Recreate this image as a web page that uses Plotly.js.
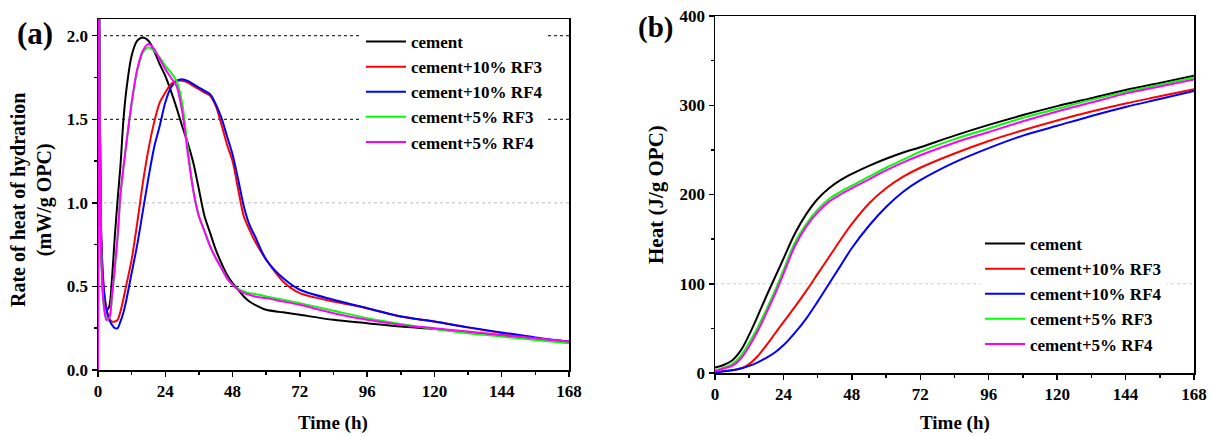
<!DOCTYPE html>
<html>
<head>
<meta charset="utf-8">
<script src="https://cdn.plot.ly/plotly-3.0.1.min.js"></script>
<style>html,body{margin:0;padding:0;background:#fff;}#chart{width:1214px;height:436px;}</style>
</head>
<body>
<div id="chart"></div>
<script>
// ---------- Data ----------
const seriesNames = ["cement", "cement+10% RF3", "cement+10% RF4", "cement+5% RF3", "cement+5% RF4"];
const seriesColors = ["#000000", "#ff0000", "#0000ff", "#00ff00", "#ff00ff"];

// (a) rate of heat of hydration (mW/g OPC) vs time (h)
const timeA = [0, 0.3, 1, 2, 3, 4, 5, 6, 7, 8, 9, 10, 12, 14, 16, 18, 20, 22, 24, 26, 28, 30, 32, 34, 36, 38, 40, 42, 44, 46, 48, 50, 52, 54, 56, 60, 66, 72, 84, 96, 108, 120, 132, 144, 156, 168];
const rateCement = [0, 2.5, 0.85, 0.42, 0.36, 0.38, 0.55, 0.80, 1.02, 1.22, 1.48, 1.66, 1.88, 1.97, 1.99, 1.97, 1.91, 1.83, 1.76, 1.67, 1.57, 1.46, 1.36, 1.24, 1.08, 0.92, 0.82, 0.72, 0.64, 0.57, 0.52, 0.48, 0.44, 0.41, 0.39, 0.36, 0.345, 0.33, 0.30, 0.28, 0.26, 0.245, 0.225, 0.205, 0.185, 0.17];
const rate10RF3 = [0, 2.5, 0.9, 0.5, 0.37, 0.31, 0.29, 0.29, 0.30, 0.35, 0.42, 0.50, 0.66, 0.88, 1.12, 1.32, 1.48, 1.60, 1.66, 1.71, 1.73, 1.73, 1.72, 1.70, 1.68, 1.66, 1.64, 1.58, 1.47, 1.35, 1.25, 1.08, 0.92, 0.84, 0.77, 0.66, 0.53, 0.46, 0.41, 0.37, 0.32, 0.29, 0.255, 0.22, 0.19, 0.165];
const rate10RF4 = [0, 2.5, 0.9, 0.5, 0.36, 0.30, 0.27, 0.25, 0.25, 0.29, 0.34, 0.41, 0.58, 0.75, 0.95, 1.15, 1.33, 1.46, 1.60, 1.69, 1.73, 1.74, 1.73, 1.71, 1.69, 1.67, 1.65, 1.59, 1.51, 1.40, 1.29, 1.14, 0.98, 0.87, 0.80, 0.66, 0.55, 0.48, 0.42, 0.37, 0.32, 0.29, 0.255, 0.225, 0.195, 0.17];
const rate5RF3 = [0, 2.5, 0.8, 0.40, 0.31, 0.31, 0.44, 0.60, 0.80, 1.04, 1.20, 1.34, 1.59, 1.79, 1.90, 1.93, 1.91, 1.87, 1.82, 1.78, 1.73, 1.60, 1.33, 1.08, 0.92, 0.83, 0.74, 0.67, 0.61, 0.55, 0.51, 0.485, 0.47, 0.46, 0.455, 0.44, 0.42, 0.40, 0.355, 0.31, 0.275, 0.245, 0.22, 0.20, 0.18, 0.16];
const rate5RF4 = [0, 2.5, 0.8, 0.40, 0.30, 0.31, 0.45, 0.62, 0.80, 1.05, 1.20, 1.34, 1.60, 1.80, 1.91, 1.95, 1.92, 1.86, 1.80, 1.75, 1.70, 1.55, 1.30, 1.07, 0.92, 0.83, 0.74, 0.67, 0.61, 0.55, 0.51, 0.48, 0.46, 0.45, 0.44, 0.43, 0.41, 0.39, 0.34, 0.30, 0.27, 0.25, 0.23, 0.21, 0.19, 0.17];

// (b) cumulative heat (J/g OPC) vs time (h)
const timeB = [0, 3, 6, 9, 12, 15, 18, 21, 24, 28, 32, 36, 40, 44, 48, 54, 60, 66, 72, 84, 96, 108, 120, 132, 144, 156, 168];
const heatCement = [6, 9, 14, 25, 43, 64, 86, 107, 128, 156, 178, 195, 207, 216, 223, 232, 240, 247, 253, 266, 278, 289, 299, 308, 317, 325, 333];
const heat10RF3 = [1, 2, 3, 5, 10, 19, 31, 44, 57, 74, 92, 111, 130, 149, 167, 190, 207, 220, 230, 246, 260, 272, 283, 293, 302, 310, 318];
const heat10RF4 = [0, 2, 3, 5, 8, 12, 17, 23, 31, 45, 61, 80, 100, 120, 140, 165, 186, 203, 216, 236, 252, 266, 277, 288, 298, 307, 316];
const heat5RF3 = [3, 6, 10, 19, 34, 51, 71, 92, 115, 146, 167, 183, 195, 203, 210, 220, 230, 239, 248, 262, 274, 286, 296, 306, 315, 323, 331];
const heat5RF4 = [2, 5, 8, 16, 30, 47, 67, 88, 111, 142, 164, 180, 192, 200, 207, 217, 227, 236, 244, 258, 270, 282, 293, 303, 313, 321, 329];

const xTickVals = [0, 24, 48, 72, 96, 120, 144, 168];
const yTickValsA = [0, 0.5, 1.0, 1.5, 2.0];
const yTickValsB = [0, 100, 200, 300, 400];

// ---------- Build ----------
const W = 1214, H = 436;
const px = v => v / W;
const py = v => 1 - v / H;
const FONT = "Liberation Serif, 'Times New Roman', serif";

const rateSeries = [rateCement, rate10RF3, rate10RF4, rate5RF3, rate5RF4];
const heatSeries = [heatCement, heat10RF3, heat10RF4, heat5RF3, heat5RF4];

const traces = [];
rateSeries.forEach((ys, i) => {
  traces.push({
    x: timeA, y: ys, type: 'scatter', mode: 'lines', name: seriesNames[i],
    xaxis: 'x', yaxis: 'y', legend: 'legend',
    line: {color: seriesColors[i], width: 2, shape: 'spline', smoothing: 0.8}
  });
});
heatSeries.forEach((ys, i) => {
  traces.push({
    x: timeB, y: ys, type: 'scatter', mode: 'lines', name: seriesNames[i],
    xaxis: 'x2', yaxis: 'y2', legend: 'legend2',
    line: {color: seriesColors[i], width: 2, shape: 'spline', smoothing: 1}
  });
});

const tickFont = {family: FONT, size: 17, color: '#000', weight: 'bold'};
function xAxis(domain, anchor) {
  return {
    domain: domain, anchor: anchor, range: [0, 168], tickvals: xTickVals,
    ticks: 'outside', ticklen: 5, tickwidth: 1.5, tickcolor: '#000',
    showline: true, linecolor: '#000', linewidth: 1.5, mirror: true,
    showgrid: false, zeroline: false, tickfont: tickFont,
    minor: {tickvals: [12, 36, 60, 84, 108, 132, 156], ticks: 'outside', ticklen: 3, tickwidth: 1.5, tickcolor: '#000', showgrid: false}
  };
}
function yAxis(domain, anchor, range, tickvals, minorvals, fmt) {
  return {
    domain: domain, anchor: anchor, range: range, tickvals: tickvals, tickformat: fmt,
    ticks: 'outside', ticklen: 5, tickwidth: 1.5, tickcolor: '#000',
    showline: true, linecolor: '#000', linewidth: 1.5, mirror: true,
    showgrid: false, zeroline: false, tickfont: tickFont,
    minor: {tickvals: minorvals, ticks: 'outside', ticklen: 3, tickwidth: 1.5, tickcolor: '#000', showgrid: false}
  };
}

function hline(xref, yref, y, color) {
  return {type: 'line', xref: xref, yref: yref, x0: 0, x1: 168, y0: y, y1: y, layer: 'below',
          line: {color: color, width: 1, dash: '3px,3px'}};
}

const legendFont = {family: FONT, size: 17, color: '#000', weight: 'bold'};

const layout = {
  width: W, height: H,
  margin: {l: 0, r: 0, t: 0, b: 0},
  paper_bgcolor: '#fff', plot_bgcolor: '#fff',
  font: {family: FONT, color: '#000'},
  showlegend: true,
  xaxis: xAxis([px(98), px(569)], 'y'),
  yaxis: yAxis([1 - 370 / H, 1 - 19 / H], 'x', [0, 2.1], yTickValsA, [0.25, 0.75, 1.25, 1.75], '.1f'),
  xaxis2: xAxis([px(715), px(1194)], 'y2'),
  yaxis2: yAxis([1 - 373 / H, 1 - 16 / H], 'x2', [0, 400], yTickValsB, [50, 150, 250, 350], 'd'),
  shapes: [
    hline('x', 'y', 2.0, '#000'),
    hline('x', 'y', 1.5, '#000'),
    hline('x', 'y', 1.0, '#bbbbbb'),
    hline('x', 'y', 0.5, '#000'),
    hline('x2', 'y2', 100, '#cccccc')
  ],
  legend: {
    x: px(361), y: py(24), xanchor: 'left', yanchor: 'top',
    bgcolor: '#fff', borderwidth: 0, itemwidth: 40,
    font: legendFont, tracegroupgap: 0
  },
  legend2: {
    x: px(980), y: py(226), xanchor: 'left', yanchor: 'top',
    bgcolor: '#fff', borderwidth: 0, itemwidth: 40,
    font: legendFont, tracegroupgap: 0
  },
  annotations: [
    {text: '(a)', xref: 'paper', yref: 'paper', x: px(35), y: py(34), showarrow: false,
     xanchor: 'center', yanchor: 'middle', font: {family: FONT, size: 31, weight: 'bold', color: '#000'}},
    {text: '(b)', xref: 'paper', yref: 'paper', x: px(655), y: py(27), showarrow: false,
     xanchor: 'center', yanchor: 'middle', font: {family: FONT, size: 29, weight: 'bold', color: '#000'}},
    {text: 'Rate of heat of hydration<br>(mW/g OPC)', xref: 'paper', yref: 'paper', x: px(31), y: py(200),
     showarrow: false, textangle: -90, xanchor: 'center', yanchor: 'middle',
     font: {family: FONT, size: 20, weight: 'bold', color: '#000'}},
    {text: 'Heat (J/g OPC)', xref: 'paper', yref: 'paper', x: px(656), y: py(195),
     showarrow: false, textangle: -90, xanchor: 'center', yanchor: 'middle',
     font: {family: FONT, size: 21, weight: 'bold', color: '#000'}},
    {text: 'Time (h)', xref: 'paper', yref: 'paper', x: px(333), y: py(423),
     showarrow: false, xanchor: 'center', yanchor: 'middle',
     font: {family: FONT, size: 19, weight: 'bold', color: '#000'}},
    {text: 'Time (h)', xref: 'paper', yref: 'paper', x: px(955), y: py(423),
     showarrow: false, xanchor: 'center', yanchor: 'middle',
     font: {family: FONT, size: 19, weight: 'bold', color: '#000'}}
  ]
};

Plotly.newPlot('chart', traces, layout, {staticPlot: true, displayModeBar: false});
</script>
</body>
</html>
